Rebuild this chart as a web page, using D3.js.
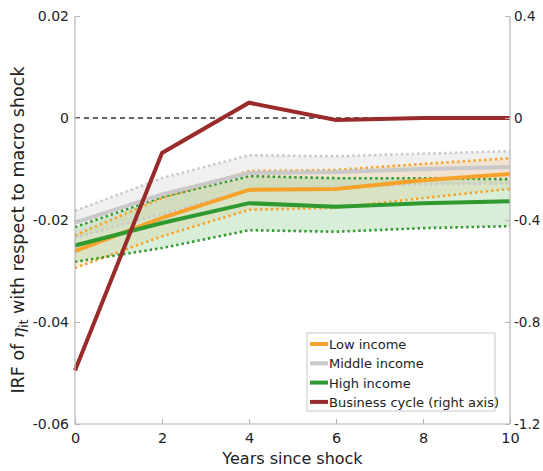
<!DOCTYPE html>
<html>
<head>
<meta charset="utf-8">
<script src="https://cdnjs.cloudflare.com/ajax/libs/d3/7.8.5/d3.min.js"></script>
<style>
  html, body { margin: 0; padding: 0; background: #fff; }
  svg text { font-family: "DejaVu Sans", sans-serif; fill: #222; }
</style>
</head>
<body>
<svg id="chart" width="543" height="471"></svg>
<script>
// Horizon in years
const years = [0, 2, 4, 6, 8, 10];

// Impulse responses by income group (left axis) with confidence bounds
const lowMean  = [-0.0261, -0.0196, -0.0141, -0.0139, -0.0122, -0.0110];
const lowUpper = [-0.0230, -0.0157, -0.0104, -0.0102, -0.0090, -0.0079];
const lowLower = [-0.0294, -0.0232, -0.0180, -0.0176, -0.0157, -0.0139];

const midMean  = [-0.0205, -0.0150, -0.0108, -0.0106, -0.0100, -0.0096];
const midUpper = [-0.0182, -0.0118, -0.0073, -0.0075, -0.0070, -0.0065];
const midLower = [-0.0235, -0.0188, -0.0140, -0.0135, -0.0130, -0.0128];

const highMean  = [-0.0250, -0.0206, -0.0167, -0.0174, -0.0167, -0.0163];
const highUpper = [-0.0214, -0.0155, -0.0114, -0.0118, -0.0118, -0.0120];
const highLower = [-0.0282, -0.0255, -0.0220, -0.0223, -0.0216, -0.0212];

// Business cycle response (right axis)
const cycle = [-0.99, -0.137, 0.06, -0.008, 0.0, 0.0];

// Tick labels
const xTicks = [0, 2, 4, 6, 8, 10];
const leftTicks = [0.02, 0, -0.02, -0.04, -0.06];
const leftTickLabels = ["0.02", "0", "-0.02", "-0.04", "-0.06"];
const rightTicks = [0.4, 0, -0.4, -0.8, -1.2];
const rightTickLabels = ["0.4", "0", "-0.4", "-0.8", "-1.2"];

const legendLabels = ["Low income", "Middle income", "High income", "Business cycle (right axis)"];

const svg = d3.select("#chart");
const m = { left: 75, right: 510, top: 16, bottom: 424 };

const x = d3.scaleLinear().domain([0, 10]).range([m.left, m.right]);
const yL = d3.scaleLinear().domain([-0.06, 0.02]).range([m.bottom, m.top]);
const yR = d3.scaleLinear().domain([-1.2, 0.4]).range([m.bottom, m.top]);

const colors = {
  low: "#f7a32b",
  mid: "#c9c9c9",
  high: "#2f9a2f",
  cycle: "#9a2b2b"
};

const groups = [
  { key: "mid",  mean: midMean,  lo: midLower,  hi: midUpper,  fill: "#e6e6e6", op: 0.6 },
  { key: "low",  mean: lowMean,  lo: lowLower,  hi: lowUpper,  fill: "#f7c68a", op: 0.3 },
  { key: "high", mean: highMean, lo: highLower, hi: highUpper, fill: "#9fd49f", op: 0.4 }
];

// Confidence bands
const area = d3.area()
  .x((d, i) => x(years[i]))
  .y0(d => yL(d[0]))
  .y1(d => yL(d[1]));

groups.forEach(g => {
  svg.append("path")
    .attr("d", area(g.lo.map((v, i) => [v, g.hi[i]])))
    .attr("fill", g.fill)
    .attr("fill-opacity", g.op);
});

// Zero reference line
svg.append("line")
  .attr("x1", m.left).attr("x2", m.right)
  .attr("y1", yL(0)).attr("y2", yL(0))
  .attr("stroke", "#333").attr("stroke-width", 1.3)
  .attr("stroke-dasharray", "5,4");

const lineL = d3.line().x((d, i) => x(years[i])).y(d => yL(d));

// Dotted bounds
groups.forEach(g => {
  [g.lo, g.hi].forEach(arr => {
    svg.append("path")
      .attr("d", lineL(arr))
      .attr("fill", "none")
      .attr("stroke", colors[g.key])
      .attr("stroke-width", 2.6)
      .attr("stroke-dasharray", "2.4,3");
  });
});

// Mean responses
groups.forEach(g => {
  svg.append("path")
    .attr("d", lineL(g.mean))
    .attr("fill", "none")
    .attr("stroke", colors[g.key])
    .attr("stroke-width", 4);
});

// Business cycle on right axis
const lineR = d3.line().x((d, i) => x(years[i])).y(d => yR(d));
svg.append("path")
  .attr("d", lineR(cycle))
  .attr("fill", "none")
  .attr("stroke", colors.cycle)
  .attr("stroke-width", 4);

// Axes frame
const axisColor = "#b5b5b5";
const frame = svg.append("g").attr("stroke", axisColor).attr("stroke-width", 1.2);
frame.append("line").attr("x1", m.left).attr("x2", m.left).attr("y1", m.top).attr("y2", m.bottom);
frame.append("line").attr("x1", m.right).attr("x2", m.right).attr("y1", m.top).attr("y2", m.bottom);
frame.append("line").attr("x1", m.left).attr("x2", m.right).attr("y1", m.bottom).attr("y2", m.bottom);

// X axis
const xAxis = d3.axisBottom(x).tickValues(xTicks).tickSize(-5).tickPadding(9).tickFormat(d3.format("d"));
const gx = svg.append("g").attr("transform", `translate(0,${m.bottom})`).call(xAxis);
gx.select(".domain").remove();
gx.selectAll("line").attr("stroke", axisColor);
gx.selectAll("text").attr("font-size", 14.5).attr("fill", "#222");

// Left axis
const yAxisL = d3.axisLeft(yL).tickValues(leftTicks).tickSize(-5).tickPadding(6)
  .tickFormat((d, i) => leftTickLabels[i]);
const gl = svg.append("g").attr("transform", `translate(${m.left},0)`).call(yAxisL);
gl.select(".domain").remove();
gl.selectAll("line").attr("stroke", axisColor);
gl.selectAll("text").attr("font-size", 14).attr("fill", "#222");

// Right axis
const yAxisR = d3.axisRight(yR).tickValues(rightTicks).tickSize(-5).tickPadding(4)
  .tickFormat((d, i) => rightTickLabels[i]);
const gr = svg.append("g").attr("transform", `translate(${m.right},0)`).call(yAxisR);
gr.select(".domain").remove();
gr.selectAll("line").attr("stroke", axisColor);
gr.selectAll("text").attr("font-size", 13.5).attr("fill", "#222");

// Axis titles
svg.append("text")
  .attr("x", (m.left + m.right) / 2).attr("y", 464)
  .attr("text-anchor", "middle").attr("font-size", 16)
  .text("Years since shock");

const yt = svg.append("text")
  .attr("transform", `translate(24,230) rotate(-90)`)
  .attr("text-anchor", "middle").attr("font-size", 17.5);
yt.append("tspan").text("IRF of ");
yt.append("tspan").attr("font-family", "DejaVu Serif, serif").attr("font-style", "italic").text("η");
yt.append("tspan").attr("font-size", 12).attr("dy", 4).text("it");
yt.append("tspan").attr("dy", -4).text(" with respect to macro shock");

// Legend
const lg = svg.append("g").attr("transform", "translate(307,333)");
lg.append("rect").attr("width", 188).attr("height", 78)
  .attr("fill", "#fff").attr("stroke", "#c8c8c8").attr("stroke-width", 1);
const legColors = [colors.low, colors.mid, colors.high, colors.cycle];
legendLabels.forEach((lab, i) => {
  const yy = 11 + i * 19.3;
  lg.append("line").attr("x1", 3).attr("x2", 21).attr("y1", yy).attr("y2", yy)
    .attr("stroke", legColors[i]).attr("stroke-width", 4);
  lg.append("text").attr("x", 22).attr("y", yy + 5).attr("font-size", 13).text(lab);
});
</script>
</body>
</html>
